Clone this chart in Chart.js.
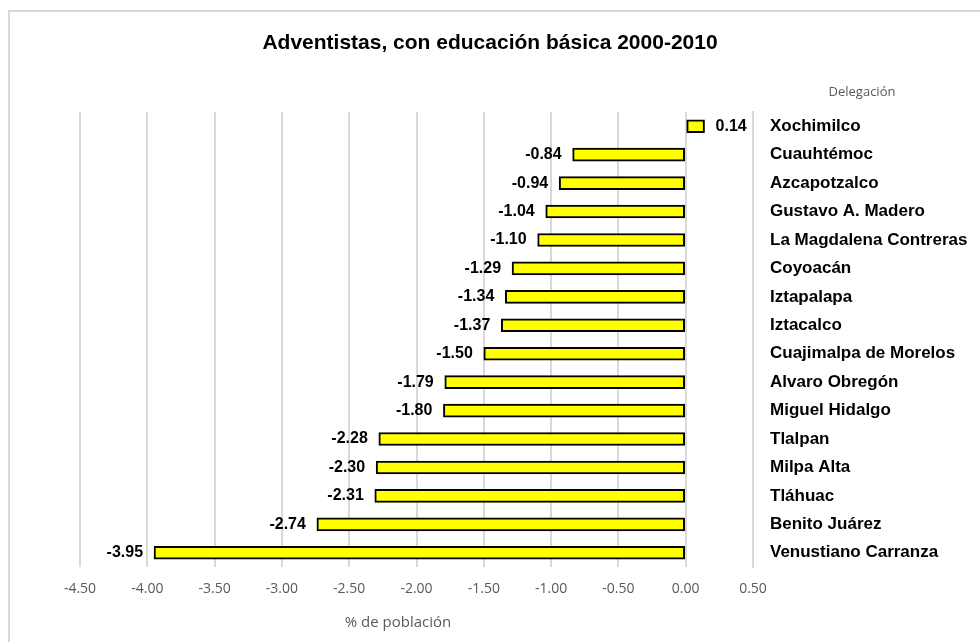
<!DOCTYPE html>
<html>
<head>
<meta charset="utf-8">
<script src="https://cdn.jsdelivr.net/npm/chart.js@4"></script>
<style>
  html, body { margin: 0; padding: 0; background: #fff; }
  #wrap { width: 980px; height: 642px; }
</style>
</head>
<body>
<div id="wrap"><canvas id="chart" width="980" height="642"></canvas></div>
<script>
const delegaciones = ['Xochimilco', 'Cuauhtémoc', 'Azcapotzalco', 'Gustavo A. Madero',
  'La Magdalena Contreras', 'Coyoacán', 'Iztapalapa', 'Iztacalco', 'Cuajimalpa de Morelos',
  'Alvaro Obregón', 'Miguel Hidalgo', 'Tlalpan', 'Milpa Alta', 'Tláhuac', 'Benito Juárez',
  'Venustiano Carranza'];
const cambio = [0.14, -0.84, -0.94, -1.04, -1.10, -1.29, -1.34, -1.37, -1.50,
  -1.79, -1.80, -2.28, -2.30, -2.31, -2.74, -3.95];
const xMin = -4.5, xMax = 0.5, xStep = 0.5;

const titulo = 'Adventistas, con educación básica 2000-2010';
const tituloY = 'Delegación';
const tituloX = '% de población';

const GREY = '#595959';
const GRID = '#d9d9d9';

// frame, titles and value labels
const extras = {
  id: 'extras',
  beforeDraw(chart) {
    const c = chart.ctx;
    c.save();
    c.strokeStyle = GRID;
    c.lineWidth = 2;
    c.beginPath();
    c.moveTo(9, 642); c.lineTo(9, 11); c.lineTo(980, 11);
    c.stroke();
    c.restore();
  },
  afterDatasetsDraw(chart) {
    const c = chart.ctx;
    c.save();
    c.fillStyle = '#000';
    c.font = 'bold 21px "Liberation Sans", Arial, sans-serif';
    c.textAlign = 'center';
    c.textBaseline = 'middle';
    c.fillText(titulo, 490, 43);

    c.fillStyle = GREY;
    c.font = '13px "Open Sans", sans-serif';
    c.fillText(tituloY, 862, 92);

    c.font = '15px "Open Sans", sans-serif';
    c.fillText(tituloX, 398, 623);

    c.fillStyle = '#000';
    c.font = 'bold 16px "Liberation Sans", Arial, sans-serif';
    const meta = chart.getDatasetMeta(0);
    meta.data.forEach((bar, i) => {
      const v = cambio[i];
      const txt = v.toFixed(2);
      if (v < 0) {
        c.textAlign = 'right';
        c.fillText(txt, Math.min(bar.x, bar.base) - 11, bar.y);
      } else {
        c.textAlign = 'left';
        c.fillText(txt, Math.max(bar.x, bar.base) + 11, bar.y);
      }
    });
    c.restore();
  }
};

new Chart(document.getElementById('chart'), {
  type: 'bar',
  data: {
    labels: delegaciones,
    datasets: [{
      data: cambio,
      backgroundColor: '#ffff00',
      borderColor: '#000000',
      borderWidth: 2,
      borderSkipped: false,
      barThickness: 13
    }]
  },
  options: {
    indexAxis: 'y',
    responsive: false,
    animation: false,
    devicePixelRatio: 1,
    layout: { padding: { left: 80, top: 112, right: 0, bottom: 0 } },
    plugins: {
      legend: { display: false },
      tooltip: { enabled: false },
      title: { display: false }
    },
    scales: {
      x: {
        min: xMin,
        max: xMax,
        ticks: {
          stepSize: xStep,
          color: GREY,
          padding: 14,
          font: { family: '"Open Sans", sans-serif', size: 14 },
          callback: v => Number(v).toFixed(2)
        },
        grid: { color: GRID, lineWidth: 2, drawTicks: false },
        border: { display: false },
        title: { display: false },
        afterFit(scale) { scale.height = 75; }
      },
      y: {
        position: 'right',
        ticks: {
          color: '#000',
          padding: 17,
          font: { family: '"Liberation Sans", Arial, sans-serif', size: 17, weight: 'bold' }
        },
        grid: { display: false, drawTicks: false },
        border: { display: true, color: GRID, width: 2 },
        afterFit(scale) { scale.width = 227; }
      }
    }
  },
  plugins: [extras]
});
</script>
</body>
</html>
